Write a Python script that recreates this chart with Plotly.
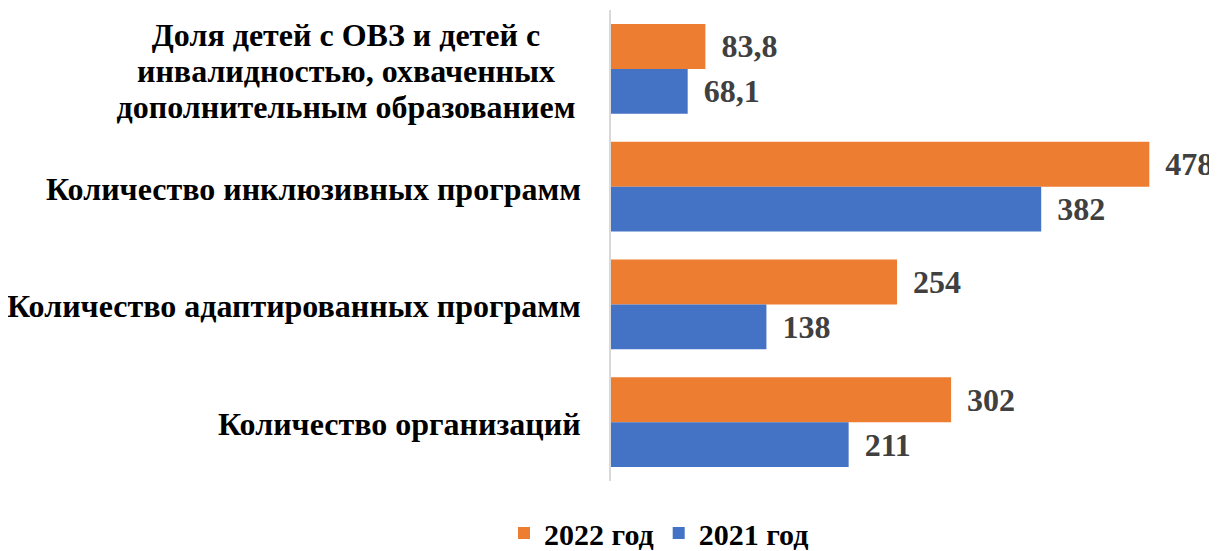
import plotly.graph_objects as go

categories = [
    "Доля детей с ОВЗ и детей с<br>инвалидностью, охваченных<br>дополнительным образованием",
    "Количество инклюзивных программ",
    "Количество адаптированных программ",
    "Количество организаций",
]
values_2022 = [83.8, 478, 254, 302]
values_2021 = [68.1, 382, 138, 211]
series_names = ["2022 год", "2021 год"]
colors = ["#ED7D31", "#4472C4"]


def fmt(v):
    return ("%g" % v).replace(".", ",")


FONT = "Liberation Serif"
fig = go.Figure()
for name, vals, col in zip(series_names, [values_2022, values_2021], colors):
    fig.add_trace(go.Bar(
        y=categories, x=vals, name=name, orientation="h",
        marker=dict(color=col, line=dict(width=0)),
        text=[fmt(v) for v in vals],
        texttemplate="<span style='font-size:26px'>\u00a0\u00a0</span>%{text}",
        textposition="outside",
        constraintext="none",
        cliponaxis=False,
        textfont=dict(family=FONT, size=32, color="#404040", weight="bold"),
    ))

LINE_H = 36
for c in categories:
    lines = c.split("<br>")
    n = len(lines)
    for i, ln in enumerate(lines):
        fig.add_annotation(
            x=0, xref="paper", y=c, yref="y", xanchor="right", xshift=-28,
            yshift=((n - 1) / 2 - i) * LINE_H - 2,
            text="<b>" + ln + "</b>", showarrow=False, align="center",
            font=dict(family=FONT, size=32, color="#000000"),
            width=470 if n > 1 else None,
        )

# page body has an 8px margin, so the figure is offset by 8px
fig.update_layout(
    width=1209, height=543,
    margin=dict(l=603, r=17, t=2, b=70, autoexpand=False),
    paper_bgcolor="white", plot_bgcolor="white",
    barmode="group", bargap=0.237, bargroupgap=0,
    showlegend=True,
    legend=dict(orientation="h", x=0.0815, xanchor="center",
                y=-0.1104, yanchor="middle",
                font=dict(family=FONT, size=30, color="#000000", weight="bold"),
                itemclick=False),
    xaxis=dict(range=[0, 523], showgrid=False, zeroline=False, showticklabels=False,
               showline=False, automargin=False),
    yaxis=dict(autorange="reversed", showticklabels=False, showline=True,
               linecolor="#d9d9d9", linewidth=2, ticks="", automargin=False),
)
fig.write_html("out.html")
